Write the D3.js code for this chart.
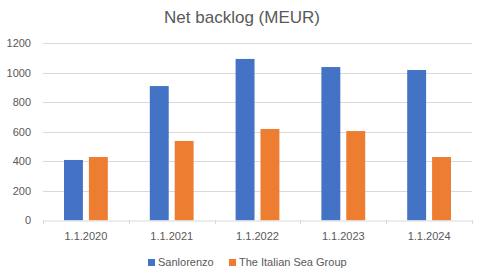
<!DOCTYPE html>
<html>
<head>
<meta charset="utf-8">
<script src="https://cdn.jsdelivr.net/npm/d3@7"></script>
<style>
  body { margin: 0; background: #fff; }
  text { font-family: "Liberation Sans", Arial, sans-serif; fill: #595959; }
</style>
</head>
<body>
<svg class="chart"></svg>
<script>
// data
const years = ['1.1.2020', '1.1.2021', '1.1.2022', '1.1.2023', '1.1.2024'];
const seriesNames = ['Sanlorenzo', 'The Italian Sea Group'];
const sanlorenzo = [409, 910, 1094, 1039, 1019];
const italianSea = [429, 538, 619, 605, 429];
const yTicks = [0, 200, 400, 600, 800, 1000, 1200];
const colors = ['#4472c4', '#ed7d31'];

const width = 479;
const height = 277;
const plotLeft = 43, plotRight = 472, plotTop = 43.3, plotBottom = 220.3;

const svg = d3.select('.chart')
  .attr('width', width)
  .attr('height', height);

// Title
svg.append('text')
  .attr('x', 242)
  .attr('y', 23)
  .attr('text-anchor', 'middle')
  .style('font-size', '17px')
  .text('Net backlog (MEUR)');

const x0 = d3.scaleBand()
  .domain(years)
  .range([plotLeft, plotRight]);

const groupPad = 21;
const x1 = d3.scaleBand()
  .domain(seriesNames)
  .range([groupPad, x0.bandwidth() - groupPad])
  .paddingInner(0.24);

const y = d3.scaleLinear()
  .domain([0, 1200])
  .range([plotBottom, plotTop]);

// gridlines
svg.append('g')
  .selectAll('line')
  .data(yTicks.filter(d => d > 0))
  .enter().append('line')
  .attr('x1', plotLeft)
  .attr('x2', plotRight)
  .attr('y1', d => Math.round(y(d)) + 0.5)
  .attr('y2', d => Math.round(y(d)) + 0.5)
  .attr('stroke', '#d9d9d9')
  .attr('stroke-width', 1);

// y labels
svg.append('g')
  .selectAll('text')
  .data(yTicks)
  .enter().append('text')
  .attr('x', 31)
  .attr('y', d => y(d))
  .attr('dy', '0.35em')
  .attr('text-anchor', 'end')
  .style('font-size', '11px')
  .text(d => d);

// bars
const groups = svg.append('g')
  .selectAll('g')
  .data(years.map((yr, i) => ({ yr, vals: [sanlorenzo[i], italianSea[i]] })))
  .enter().append('g')
  .attr('transform', d => `translate(${x0(d.yr)},0)`);

groups.selectAll('rect')
  .data(d => d.vals.map((v, j) => ({ name: seriesNames[j], v, j })))
  .enter().append('rect')
  .attr('x', d => x1(d.name))
  .attr('width', x1.bandwidth())
  .attr('y', d => y(d.v))
  .attr('height', d => y(0) - y(d.v))
  .attr('fill', d => colors[d.j]);

// x axis
const xAxis = svg.append('g')
  .attr('transform', `translate(0, ${Math.round(plotBottom) + 0.5})`)
  .call(d3.axisBottom(x0).tickSize(0).tickPadding(12));
xAxis.select('.domain').attr('stroke', '#d9d9d9');
xAxis.selectAll('text')
  .style('font-size', '11px')
  .style('font-family', '"Liberation Sans", Arial, sans-serif')
  .attr('fill', '#595959');

// category boundary ticks
const bounds = years.map(d => x0(d)).concat([plotRight]);
svg.append('g')
  .selectAll('line')
  .data(bounds)
  .enter().append('line')
  .attr('x1', d => Math.round(d) + 0.5)
  .attr('x2', d => Math.round(d) + 0.5)
  .attr('y1', Math.round(plotBottom))
  .attr('y2', Math.round(plotBottom) + 4)
  .attr('stroke', '#d9d9d9');

// legend
const legendX = [148, 229];
const legend = svg.append('g')
  .selectAll('g')
  .data(seriesNames)
  .enter().append('g')
  .attr('transform', (d, i) => `translate(${legendX[i]}, 259)`);
legend.append('rect')
  .attr('width', 7)
  .attr('height', 7)
  .attr('fill', (d, i) => colors[i]);
legend.append('text')
  .attr('x', 10)
  .attr('y', 3.5)
  .attr('dy', '0.35em')
  .style('font-size', '11px')
  .text(d => d);
</script>
</body>
</html>
